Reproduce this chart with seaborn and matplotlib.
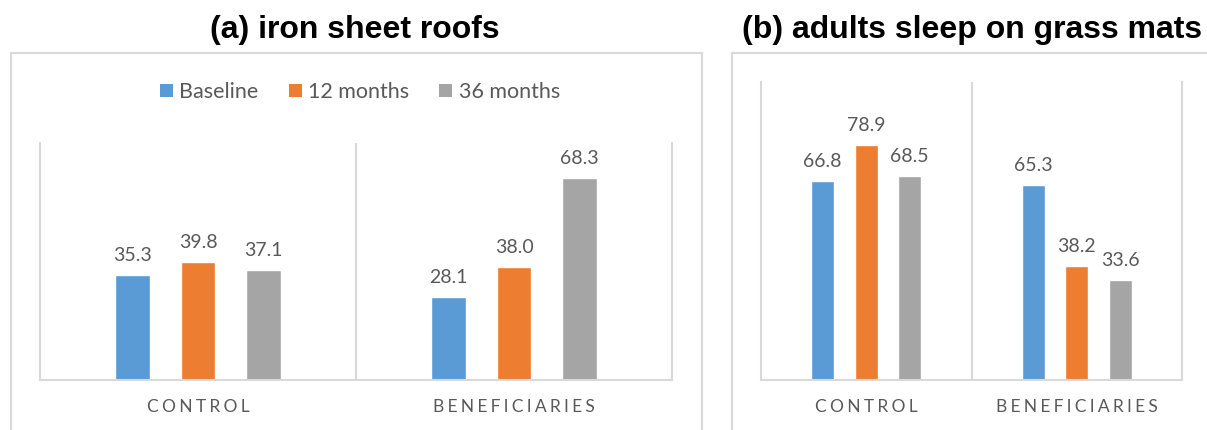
import matplotlib
matplotlib.use("Agg")
import matplotlib.pyplot as plt
import seaborn as sns
import pandas as pd
from matplotlib.patches import Patch, Rectangle

groups = ["CONTROL", "BENEFICIARIES"]
periods = ["Baseline", "12 months", "36 months"]

roofs_baseline = [35.3, 28.1]
roofs_12m = [39.8, 38.0]
roofs_36m = [37.1, 68.3]

mats_baseline = [66.8, 65.3]
mats_12m = [78.9, 38.2]
mats_36m = [68.5, 33.6]

colors = ["#5B9BD5", "#ED7D31", "#A5A5A5"]
title_a = "(a) iron sheet roofs"
title_b = "(b) adults sleep on grass mats"


def spaced(s):
    return "\u2009\u200a".join(s)


def make_df(b, m12, m36):
    rows = []
    for vals, p in zip([b, m12, m36], periods):
        for g, v in zip(groups, vals):
            rows.append({"group": g, "period": p, "value": v})
    return pd.DataFrame(rows)


sns.set_theme(style="white")
plt.rcParams["font.family"] = ["Lato", "DejaVu Sans"]

W, H = 1207, 430
fig = plt.figure(figsize=(W / 100, H / 100), dpi=100)


def rect(l, t, r, b):
    return [l / W, 1 - b / H, (r - l) / W, (b - t) / H]


frame_col = "#d9d9d9"
fig.patches.append(Rectangle((11 / W, -0.2), (702 - 11) / W, 1 - 53 / H + 0.2,
                             transform=fig.transFigure, fill=False,
                             edgecolor=frame_col, lw=1.5))
fig.patches.append(Rectangle((732 / W, -0.2), (1230 - 732) / W, 1 - 53 / H + 0.2,
                             transform=fig.transFigure, fill=False,
                             edgecolor=frame_col, lw=1.5))

text_col = "#595959"


def draw(ax, df, ymax):
    sns.barplot(data=df, x="group", y="value", hue="period", palette=colors,
                width=0.62, gap=0.47, ax=ax, legend=False, saturation=1,
                errorbar=None, order=groups, hue_order=periods)
    for c in ax.containers:
        ax.bar_label(c, fmt="%.1f", padding=8, color=text_col, fontsize=14)
    ax.set_ylim(0, ymax)
    ax.set_xlim(-0.5, 1.5)
    ax.set_yticks([])
    ax.set_xlabel("")
    ax.set_ylabel("")
    ax.set_xticks([0, 1])
    ax.set_xticklabels([spaced(g) for g in groups], color=text_col, fontsize=12.5)
    ax.tick_params(axis="x", length=0, pad=14)
    for s in ["left", "right", "bottom"]:
        ax.spines[s].set_color(frame_col)
        ax.spines[s].set_linewidth(1.5)
    ax.spines["top"].set_visible(False)
    ax.axvline(0.5, color=frame_col, lw=1.5)
    ax.set_facecolor("none")


ax_a = fig.add_axes(rect(40, 143, 672, 380))
draw(ax_a, make_df(roofs_baseline, roofs_12m, roofs_36m), 80)
ax_b = fig.add_axes(rect(761, 82, 1182, 380))
draw(ax_b, make_df(mats_baseline, mats_12m, mats_36m), 100)

handles = [Patch(facecolor=c, edgecolor="none", label=p) for c, p in zip(colors, periods)]
leg = ax_a.legend(handles=handles, loc="center", bbox_to_anchor=(320 / 632, 1 + 51 / 237),
                  ncol=3, frameon=False, fontsize=15.5, handlelength=0.6,
                  handleheight=0.6, handletextpad=0.3, columnspacing=1.4)
for t in leg.get_texts():
    t.set_color(text_col)

fig.text(355 / W, 1 - 30 / H, title_a, ha="center", va="center",
         family="Liberation Sans", weight="bold", fontsize=23, color="black")
fig.text(972 / W, 1 - 30 / H, title_b, ha="center", va="center",
         family="Liberation Sans", weight="bold", fontsize=23, color="black")

fig.savefig("out.png", dpi=100)
